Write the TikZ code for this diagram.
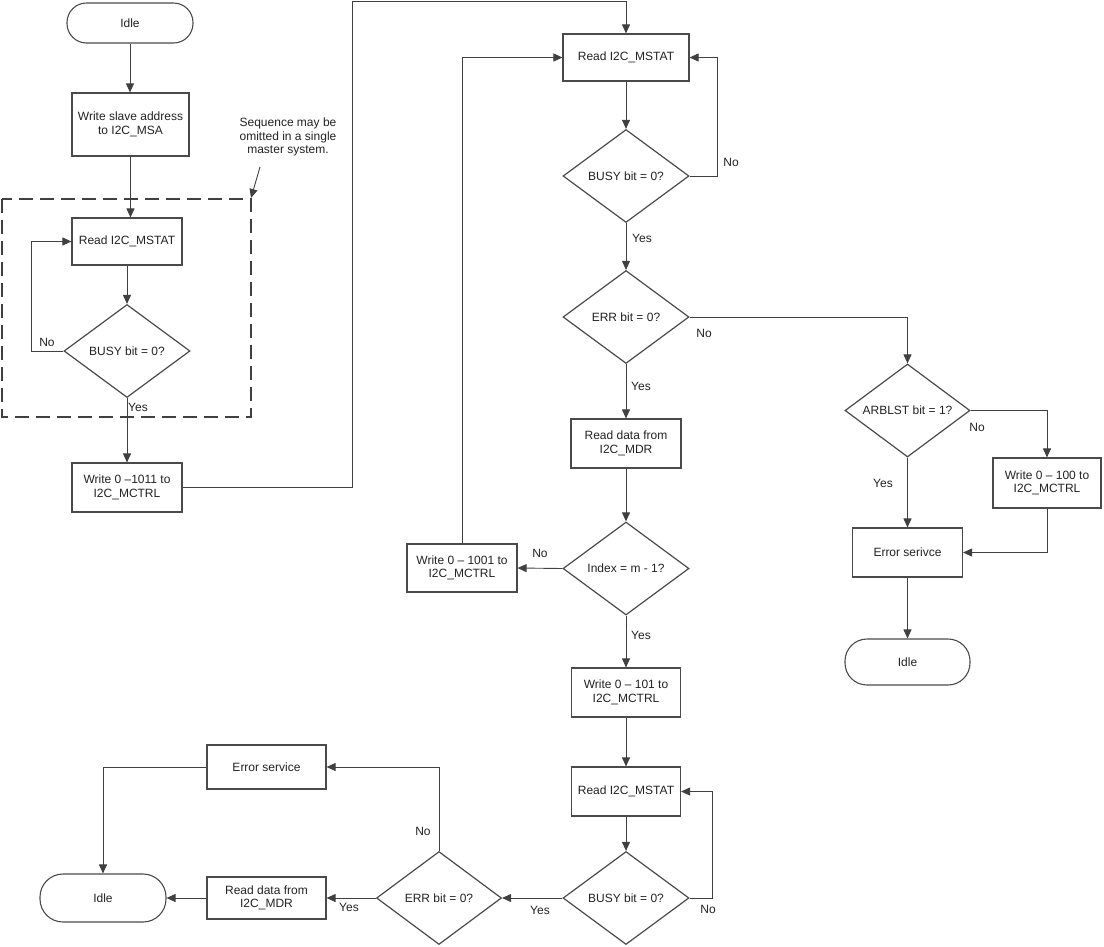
\documentclass[tikz,border=0pt]{standalone}
\usepackage{fontspec}
\setmainfont{Liberation Sans}
\usetikzlibrary{arrows.meta,shapes.geometric,calc}
\definecolor{ln}{HTML}{404040}
\definecolor{bx}{HTML}{4A4A4A}
\definecolor{tx}{HTML}{222222}
\begin{document}
\begin{tikzpicture}[x=1pt,y=-1pt,
  font=\fontsize{12}{13.5}\selectfont,
  box/.style={draw=bx, line width=1.15pt, rectangle, inner sep=0pt, align=center, text=tx},
  term/.style={draw=bx, line width=1.1pt, rectangle, inner sep=0pt, align=center, text=tx},
  dec/.style={draw=bx, line width=1.2pt, diamond, aspect=1.35, inner sep=0pt, align=center, text=tx, minimum width=126pt, minimum height=93pt},
  con/.style={draw=ln, line width=0.9pt},
  arr/.style={con, -{Triangle[length=9pt,width=8pt]}},
  lbl/.style={inner sep=0pt, text=tx}
]
\useasboundingbox (0,0) rectangle (1104,946);

% left column
\node[term, rounded corners=19.5pt, minimum width=126pt, minimum height=40pt] (idle1) at (130,23) {Idle};
\node[box, minimum width=117pt, minimum height=63pt] (ws) at (130.5,124.5) {Write slave address\\to I2C\_MSA};
\node[box, minimum width=110pt, minimum height=47pt] (rm1) at (127,241.5) {Read I2C\_MSTAT};
\node[dec] (d1) at (127,351) {BUSY bit = 0?};
\node[box, minimum width=110pt, minimum height=49pt] (w1011) at (127,487.5) {Write 0 –1011 to\\I2C\_MCTRL};
\draw[ln, line width=1.4pt, dash pattern=on 14pt off 7pt] (2,199) rectangle (251,417);
\node[lbl, align=center] (note) at (288,137) {Sequence may be\\omitted in a single\\master system.};
\coordinate (nA) at (260,167);
\coordinate (nB) at (251,198);

% middle column
\node[box, minimum width=126pt, minimum height=47pt] (rm2) at (626,57.5) {Read I2C\_MSTAT};
\node[dec] (d2) at (626,176) {BUSY bit = 0?};
\node[dec] (d3) at (626,317) {ERR bit = 0?};
\node[box, minimum width=110pt, minimum height=49pt] (rd1) at (626,443.5) {Read data from\\I2C\_MDR};
\node[dec] (d4) at (626,568.5) {Index = m - 1?};
\node[box, minimum width=110pt, minimum height=48pt] (w1001) at (462,568) {Write 0 – 1001 to\\I2C\_MCTRL};
\node[box, minimum width=109pt, minimum height=49pt] (w101) at (626,692.5) {Write 0 – 101 to\\I2C\_MCTRL};
\node[box, minimum width=109pt, minimum height=49pt] (rm3) at (626,791.5) {Read I2C\_MSTAT};
\node[dec] (d5) at (626,898) {BUSY bit = 0?};

% bottom left
\node[dec, minimum width=125pt] (d6) at (439,898) {ERR bit = 0?};
\node[box, minimum width=119pt, minimum height=42pt] (rd2) at (266.5,898) {Read data from\\I2C\_MDR};
\node[box, minimum width=119pt, minimum height=44pt] (es2) at (266.5,767) {Error service};
\node[term, rounded corners=23pt, minimum width=126pt, minimum height=48pt] (idle3) at (103,898) {Idle};

% right column
\node[dec, minimum width=125pt] (d7) at (907.5,410.5) {ARBLST bit = 1?};
\node[box, minimum width=108pt, minimum height=50pt] (w100) at (1047,483) {Write 0 – 100 to\\I2C\_MCTRL};
\node[box, minimum width=110pt, minimum height=49pt] (es1) at (907.5,552.5) {Error serivce};
\node[term, rounded corners=22pt, minimum width=125pt, minimum height=46pt] (idle2) at (907.5,662) {Idle};

\coordinate (top1) at (352,1);

% connectors left
\draw[arr] (idle1.south) -- (idle1.south |- ws.north);
\draw[arr] (ws.south) -- (ws.south |- rm1.north);
\draw[arr] (rm1.south) -- (d1.north);
\draw[arr] (d1.west) -- ++(-32,0) |- (rm1.west);
\draw[arr] (d1.south) -- (w1011.north);
\draw[arr] (nA) -- (nB);
\draw[arr] (w1011.east) -| (top1) -| (rm2.north);

% middle connectors
\draw[arr] (rm2.south) -- (d2.north);
\draw[arr] (d2.east) -- ++(28,0) |- (rm2.east);
\draw[arr] (d2.south) -- (d3.north);
\draw[arr] (d3.east) -| (d7.north);
\draw[arr] (d3.south) -- (rd1.north);
\draw[arr] (rd1.south) -- (d4.north);
\draw[arr] (d4.west) -- (w1001.east);
\draw[arr] (w1001.north) |- (rm2.west);
\draw[arr] (d4.south) -- (w101.north);
\draw[arr] (w101.south) -- (rm3.north);
\draw[arr] (rm3.south) -- (d5.north);
\draw[arr] (d5.east) -- ++(23,0) |- (rm3.east);
\draw[arr] (d5.west) -- (d6.east);
\draw[arr] (d6.west) -- (rd2.east);
\draw[arr] (rd2.west) -- (idle3.east);
\draw[arr] (d6.north) |- (es2.east);
\draw[arr] (es2.west) -| (idle3.north);

% right connectors
\draw[arr] (d7.east) -| (w100.north);
\draw[arr] (d7.south) -- (es1.north);
\draw[arr] (w100.south) |- (es1.east);
\draw[arr] (es1.south) -- (idle2.north);

% labels
\node[lbl] (l1) at (47,342) {No};
\node[lbl] (l2) at (138,407) {Yes};
\node[lbl] (l3) at (731,162) {No};
\node[lbl] (l4) at (642,238) {Yes};
\node[lbl] (l5) at (704,333) {No};
\node[lbl] (l6) at (641,386) {Yes};
\node[lbl] (l7) at (540,553) {No};
\node[lbl] (l8) at (641,635) {Yes};
\node[lbl] (l9) at (883,483) {Yes};
\node[lbl] (l10) at (977,427) {No};
\node[lbl] (l11) at (708,909) {No};
\node[lbl] (l12) at (540,910) {Yes};
\node[lbl] (l13) at (423,831) {No};
\node[lbl] (l14) at (349,907) {Yes};
\end{tikzpicture}
\end{document}
